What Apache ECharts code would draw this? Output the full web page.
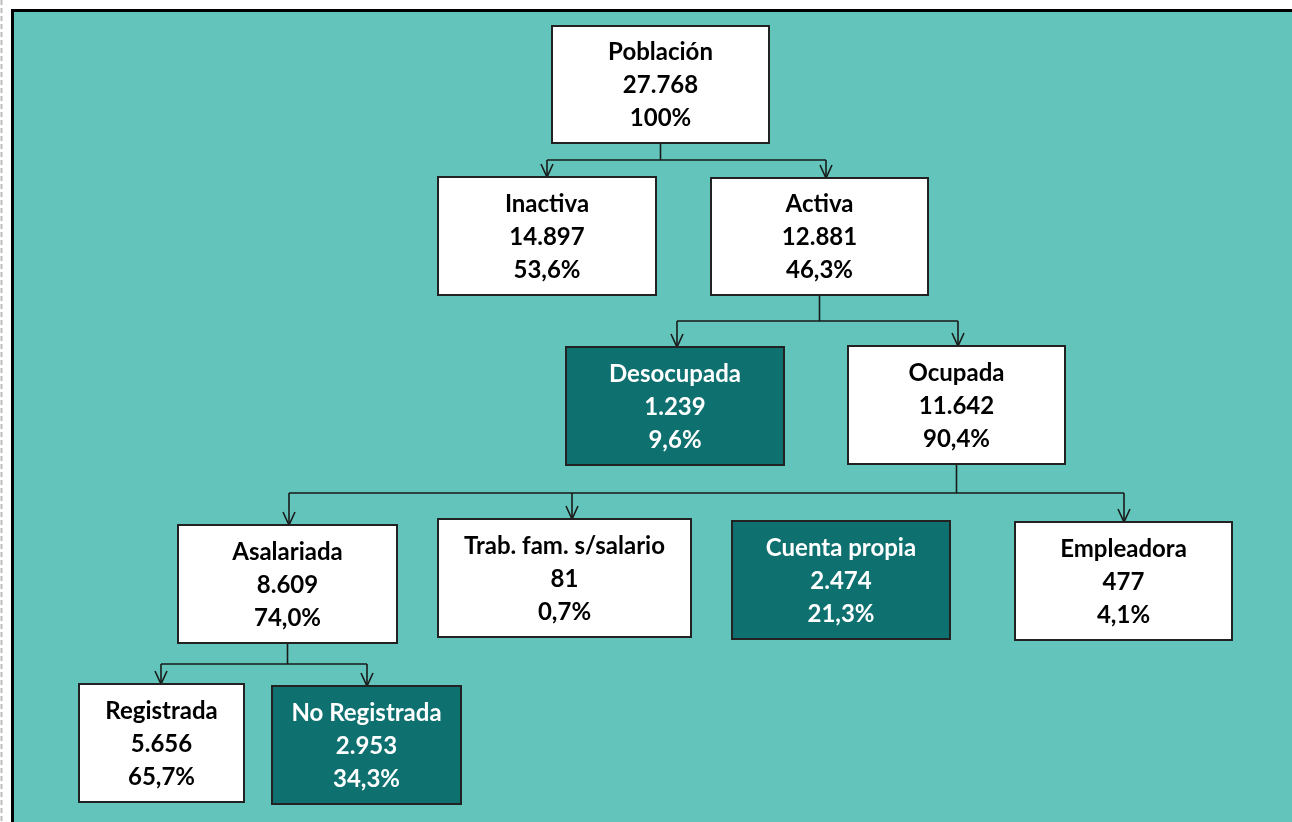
<!DOCTYPE html>
<html>
<head>
<meta charset="utf-8">
<title>Población</title>
<script src="https://cdn.jsdelivr.net/npm/echarts@6/dist/echarts.min.js"></script>
<style>
html,body{margin:0;padding:0;background:#fff;}
#c1{width:1292px;height:822px;}
</style>
</head>
<body>
<div id="c1"></div>
<script>
// datos del cuadro
var names = ['Población','Inactiva','Activa','Desocupada','Ocupada','Asalariada','Trab. fam. s/salario','Cuenta propia','Empleadora','Registrada','No Registrada'];
var values = ['27.768','14.897','12.881','1.239','11.642','8.609','81','2.474','477','5.656','2.953'];
var shares = ['100%','53,6%','46,3%','9,6%','90,4%','74,0%','0,7%','21,3%','4,1%','65,7%','34,3%'];
var parents = [-1,0,0,2,2,4,4,4,4,5,5];
var dark = [3,7,10];

// ubicacion de las cajas: x0,y0,x1,y1 y x de la flecha que llega
var boxes = [
  [552,26,769,143,null],
  [438,177,656,295,547],
  [711,178,928,295,826],
  [566,347,784,465,677],
  [848,346,1065,464,958],
  [178,525,397,643,289],
  [438,519,691,637,572],
  [732,521,950,639,null],
  [1015,522,1232,640,1124],
  [79,684,244,802,161],
  [272,686,461,804,367]
];
// altura de la barra horizontal por cada padre
var busY = {0:160, 2:321, 4:493, 5:664};

var lineColor = '#1a1a1a';

function box_item(params, api)
{
  var i = api.value(0);
  var b = boxes[i];
  var p0 = api.coord([b[0],b[1]]);
  var p1 = api.coord([b[2],b[3]]);
  var isDark = dark.indexOf(i) >= 0;
  return {
    type:'group',
    children:[
      {
        type:'rect',
        shape:{x:p0[0],y:p0[1],width:p1[0]-p0[0],height:p1[1]-p0[1]},
        style:{fill:isDark ? '#0f7070' : '#ffffff',stroke:'#222',lineWidth:2}
      },
      {
        type:'text',
        x:(p0[0]+p1[0])/2,
        y:(p0[1]+p1[1])/2 + 1,
        style:{
          text:names[i]+'\n'+values[i]+'\n'+shares[i],
          fill:isDark ? '#ffffff' : '#000000',
          font:'bold 24px Lato, "Open Sans", sans-serif',
          lineHeight:33,
          align:'center',
          verticalAlign:'middle'
        }
      }
    ]
  };
}

function link_item(params, api)
{
  var p = api.value(0);
  var pb = boxes[p];
  var stemX = (pb[0]+pb[2])/2;
  var kids = [];
  for (var k = 0; k < parents.length; k++)
  {
    if (parents[k] == p && boxes[k][4] != null) kids.push(k);
  }
  var xs = kids.map(function(k){ return boxes[k][4]; });
  var minX = Math.min.apply(null, xs), maxX = Math.max.apply(null, xs);
  var y = busY[p];
  var children = [];
  var st = {stroke:lineColor,lineWidth:1.6,fill:null};
  children.push({type:'polyline',shape:{points:[api.coord([stemX,pb[3]]),api.coord([stemX,y])]},style:st});
  children.push({type:'polyline',shape:{points:[api.coord([minX,y]),api.coord([maxX,y])]},style:st});
  if (kids.length > 3)
  {
    // segundo trazo que sale de Ocupada hacia la derecha
    children.push({type:'polyline',shape:{points:[api.coord([stemX+3,pb[3]+2]),api.coord([stemX+3,y])]},style:st});
  }
  kids.forEach(function(k){
    var ax = boxes[k][4], ay = boxes[k][1];
    children.push({type:'polyline',shape:{points:[api.coord([ax,y]),api.coord([ax,ay])]},style:st});
    children.push({type:'polyline',shape:{points:[api.coord([ax-6,ay-13]),api.coord([ax,ay]),api.coord([ax+6,ay-13])]},style:st});
  });
  return {type:'group',children:children};
}

var nodeData = names.map(function(n, i){ return [i]; });
var linkData = [];
for (var key in busY) linkData.push([Number(key)]);

var c1_chart = echarts.init(document.getElementById('c1'));
var c1_option = {
  animation:false,
  graphic:[
    {type:'line',shape:{x1:1.5,y1:0,x2:1.5,y2:822},style:{stroke:'#bbbbbb',lineWidth:2,lineDash:[5,3]},z:-10},
    {type:'rect',shape:{x:12.5,y:10.5,width:1300,height:830},style:{fill:'#62c4ba',stroke:'#000',lineWidth:3},z:-10}
  ],
  grid:{left:0,right:0,top:0,bottom:0},
  xAxis:{type:'value',min:0,max:1292,show:false},
  yAxis:{type:'value',min:0,max:822,inverse:true,show:false},
  series:[
    {type:'custom',coordinateSystem:'cartesian2d',renderItem:link_item,data:linkData,z:1,silent:true},
    {type:'custom',coordinateSystem:'cartesian2d',renderItem:box_item,data:nodeData,z:2,silent:true}
  ]
};
c1_chart.setOption(c1_option);
</script>
</body>
</html>
